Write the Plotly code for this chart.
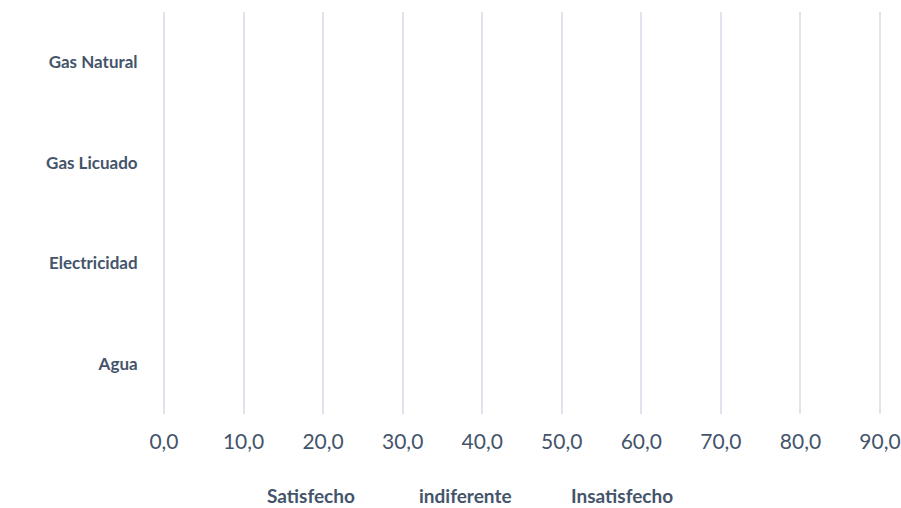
import plotly.graph_objects as go

categories = ["Agua", "Electricidad", "Gas Licuado", "Gas Natural"]
satisfecho = [None, None, None, None]
indiferente = [None, None, None, None]
insatisfecho = [None, None, None, None]
tick_vals = [0, 10, 20, 30, 40, 50, 60, 70, 80, 90]
tick_text = ["0,0", "10,0", "20,0", "30,0", "40,0", "50,0", "60,0", "70,0", "80,0", "90,0"]

font_family = "Lato, 'Open Sans', sans-serif"
txt = "#44546A"

fig = go.Figure()
for name, vals in [("Satisfecho", satisfecho), ("indiferente", indiferente), ("Insatisfecho", insatisfecho)]:
    fig.add_trace(go.Bar(
        y=categories, x=vals, name=name, orientation="h",
        marker=dict(color="rgba(0,0,0,0)", line=dict(width=0)), showlegend=True,
    ))

fig.update_layout(
    width=901, height=508,
    margin=dict(l=160, r=17, t=12, b=94, autoexpand=False),
    paper_bgcolor="white", plot_bgcolor="white",
    barmode="stack",
    font=dict(family=font_family, color=txt),
    xaxis=dict(
        range=[-0.5, 90.5], tickvals=tick_vals, ticktext=tick_text,
        showgrid=True, gridcolor="#DEE3EC", gridwidth=2,
        zeroline=False, showline=False,
        ticks="outside", ticklen=9, tickcolor="rgba(0,0,0,0)",
        tickfont=dict(size=21, color=txt, family=font_family),
        fixedrange=True, automargin=False,
    ),
    yaxis=dict(
        type="category", categoryorder="array", categoryarray=categories,
        range=[-0.5, 3.5],
        showgrid=False, zeroline=False, showline=False,
        ticks="outside", ticklen=18, tickcolor="rgba(0,0,0,0)",
        tickfont=dict(size=17, color=txt, family=font_family, weight="bold"),
        automargin=False,
    ),
    legend=dict(
        orientation="h", x=227 / 901, xanchor="left", xref="container",
        yref="paper", y=-0.203, yanchor="middle",
        font=dict(size=19, color=txt, family=font_family, weight="bold"),
        itemwidth=30, entrywidth=107, entrywidthmode="pixels", traceorder="normal",
    ),
)

fig.write_html("out.html", config={"displayModeBar": False},
               post_script="document.body.style.margin='0';")
